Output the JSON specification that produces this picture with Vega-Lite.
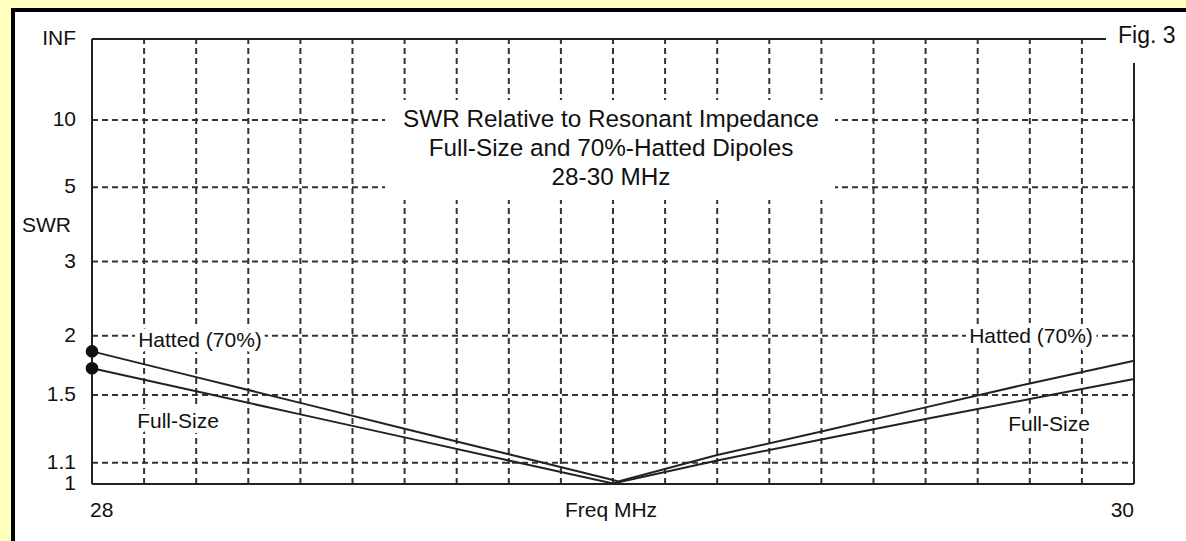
{
  "$schema": "https://vega.github.io/schema/vega-lite/v6.json",
  "autosize": {"type": "none"},
  "padding": {"left": 13, "top": 10, "right": 0, "bottom": 0},
  "width": 1173,
  "height": 531,
  "background": "#FFFFC0",
  "config": {
    "view": {"fill": "white", "stroke": "black", "strokeWidth": 4, "strokeDash": [1173, 1704, 531]},
    "text": {"font": "Liberation Sans", "fontSize": 21, "fill": "#111"}
  },
  "datasets": {
    "curves": [
      {"series": "Hatted (70%)", "freq": 28.0, "swr": 1.849},
      {"series": "Hatted (70%)", "freq": 28.2, "swr": 1.632},
      {"series": "Hatted (70%)", "freq": 28.4, "swr": 1.446},
      {"series": "Hatted (70%)", "freq": 28.6, "swr": 1.284},
      {"series": "Hatted (70%)", "freq": 28.8, "swr": 1.143},
      {"series": "Hatted (70%)", "freq": 29.0, "swr": 1.018},
      {"series": "Hatted (70%)", "freq": 29.01, "swr": 1.012},
      {"series": "Hatted (70%)", "freq": 29.2, "swr": 1.139},
      {"series": "Hatted (70%)", "freq": 29.4, "swr": 1.268},
      {"series": "Hatted (70%)", "freq": 29.6, "swr": 1.416},
      {"series": "Hatted (70%)", "freq": 29.8, "swr": 1.584},
      {"series": "Hatted (70%)", "freq": 30.0, "swr": 1.766},
      {"series": "Full-Size", "freq": 28.0, "swr": 1.703},
      {"series": "Full-Size", "freq": 28.2, "swr": 1.526},
      {"series": "Full-Size", "freq": 28.4, "swr": 1.371},
      {"series": "Full-Size", "freq": 28.6, "swr": 1.234},
      {"series": "Full-Size", "freq": 28.8, "swr": 1.112},
      {"series": "Full-Size", "freq": 29.0, "swr": 1.002},
      {"series": "Full-Size", "freq": 29.2, "swr": 1.112},
      {"series": "Full-Size", "freq": 29.4, "swr": 1.222},
      {"series": "Full-Size", "freq": 29.6, "swr": 1.342},
      {"series": "Full-Size", "freq": 29.8, "swr": 1.472},
      {"series": "Full-Size", "freq": 30.0, "swr": 1.618}
    ],
    "ticks": [
      {"swr": 1, "label": "1"},
      {"swr": 1.1, "label": "1.1"},
      {"swr": 1.5, "label": "1.5"},
      {"swr": 2, "label": "2"},
      {"swr": 3, "label": "3"},
      {"swr": 5, "label": "5"},
      {"swr": 10, "label": "10"},
      {"swr": null, "label": "INF"}
    ],
    "vgrid": [
      {"freq": 28.1}, {"freq": 28.2}, {"freq": 28.3}, {"freq": 28.4}, {"freq": 28.5},
      {"freq": 28.6}, {"freq": 28.7}, {"freq": 28.8}, {"freq": 28.9}, {"freq": 29.0},
      {"freq": 29.1}, {"freq": 29.2}, {"freq": 29.3}, {"freq": 29.4}, {"freq": 29.5},
      {"freq": 29.6}, {"freq": 29.7}, {"freq": 29.8}, {"freq": 29.9}
    ],
    "notes": [
      {"text": "Hatted (70%)", "freq": 28.2073, "swr": 1.947},
      {"text": "Full-Size", "freq": 28.1651, "swr": 1.324},
      {"text": "Hatted (70%)", "freq": 29.8023, "swr": 1.987},
      {"text": "Full-Size", "freq": 29.8369, "swr": 1.306}
    ]
  },
  "layer": [
    {
      "data": {"name": "vgrid"},
      "mark": {"type": "rule", "stroke": "#333", "strokeWidth": 2, "strokeDash": [6, 4]},
      "encoding": {
        "x": {"field": "freq", "type": "quantitative", "scale": {"domain": [27.84837, 30.09981], "nice": false, "zero": false}, "axis": null},
        "y": {"datum": 0, "type": "quantitative", "scale": {"domain": [-0.12809, 1.06517], "nice": false, "zero": false}, "axis": null},
        "y2": {"datum": 1}
      }
    },
    {
      "data": {"name": "ticks"},
      "transform": [
        {"calculate": "datum.swr == null ? 1 : (datum.swr - 1) / (datum.swr + 1)", "as": "rho"},
        {"filter": "datum.swr > 1"}
      ],
      "mark": {"type": "rule", "stroke": "#333", "strokeWidth": 2, "strokeDash": [6, 4]},
      "encoding": {
        "y": {"field": "rho", "type": "quantitative", "axis": null},
        "x": {"datum": 28, "type": "quantitative", "axis": null},
        "x2": {"datum": 30}
      }
    },
    {
      "data": {"values": [{}]},
      "mark": {"type": "rect", "fill": "white"},
      "encoding": {
        "x": {"datum": 28.5624, "type": "quantitative", "axis": null},
        "x2": {"datum": 29.4261},
        "y": {"datum": 0.8629, "type": "quantitative", "axis": null},
        "y2": {"datum": 0.6382}
      }
    },
    {
      "data": {"name": "notes"},
      "transform": [{"calculate": "(datum.swr - 1) / (datum.swr + 1)", "as": "rho"}],
      "mark": {"type": "text", "fill": "white", "stroke": "white", "strokeWidth": 10, "strokeJoin": "round", "baseline": "middle", "align": "center"},
      "encoding": {
        "x": {"field": "freq", "type": "quantitative", "axis": null},
        "y": {"field": "rho", "type": "quantitative", "axis": null},
        "text": {"field": "text"}
      }
    },
    {
      "data": {"values": [{}]},
      "mark": {"type": "rule", "stroke": "#222", "strokeWidth": 2},
      "encoding": {
        "x": {"datum": 28, "type": "quantitative", "axis": null},
        "y": {"datum": 0, "type": "quantitative", "axis": null},
        "y2": {"datum": 1}
      }
    },
    {
      "data": {"values": [{}]},
      "mark": {"type": "rule", "stroke": "#222", "strokeWidth": 2},
      "encoding": {
        "x": {"datum": 30, "type": "quantitative", "axis": null},
        "y": {"datum": 0, "type": "quantitative", "axis": null},
        "y2": {"datum": 0.946}
      }
    },
    {
      "data": {"values": [{}]},
      "mark": {"type": "rule", "stroke": "#222", "strokeWidth": 2},
      "encoding": {
        "y": {"datum": 0, "type": "quantitative", "axis": null},
        "x": {"datum": 28, "type": "quantitative", "axis": null},
        "x2": {"datum": 30}
      }
    },
    {
      "data": {"values": [{}]},
      "mark": {"type": "rule", "stroke": "#222", "strokeWidth": 2},
      "encoding": {
        "y": {"datum": 1, "type": "quantitative", "axis": null},
        "x": {"datum": 28, "type": "quantitative", "axis": null},
        "x2": {"datum": 29.9463}
      }
    },
    {
      "data": {"name": "curves"},
      "transform": [{"calculate": "(datum.swr - 1) / (datum.swr + 1)", "as": "rho"}],
      "mark": {"type": "line", "stroke": "#222", "strokeWidth": 2},
      "encoding": {
        "x": {"field": "freq", "type": "quantitative", "axis": null},
        "y": {"field": "rho", "type": "quantitative", "axis": null},
        "detail": {"field": "series"}
      }
    },
    {
      "data": {"name": "curves"},
      "transform": [
        {"filter": "datum.freq == 28"},
        {"calculate": "(datum.swr - 1) / (datum.swr + 1)", "as": "rho"}
      ],
      "mark": {"type": "point", "shape": "circle", "filled": true, "size": 160, "color": "#111", "opacity": 1},
      "encoding": {
        "x": {"field": "freq", "type": "quantitative", "axis": null},
        "y": {"field": "rho", "type": "quantitative", "axis": null}
      }
    },
    {
      "data": {"name": "notes"},
      "transform": [{"calculate": "(datum.swr - 1) / (datum.swr + 1)", "as": "rho"}],
      "mark": {"type": "text", "baseline": "middle", "align": "center"},
      "encoding": {
        "x": {"field": "freq", "type": "quantitative", "axis": null},
        "y": {"field": "rho", "type": "quantitative", "axis": null},
        "text": {"field": "text"}
      }
    },
    {
      "data": {"values": [{}]},
      "mark": {"type": "text", "align": "center", "baseline": "middle", "fontSize": 24.3, "lineHeight": 29, "dx": -2,
        "text": ["SWR Relative to Resonant Impedance", "Full-Size and 70%-Hatted Dipoles", "28-30 MHz"]},
      "encoding": {
        "x": {"datum": 29, "type": "quantitative", "axis": null},
        "y": {"datum": 0.818, "type": "quantitative", "axis": null}
      }
    },
    {
      "data": {"name": "ticks"},
      "transform": [{"calculate": "datum.swr == null ? 1 : (datum.swr - 1) / (datum.swr + 1)", "as": "rho"}],
      "mark": {"type": "text", "align": "right", "baseline": "middle", "dx": -16},
      "encoding": {
        "x": {"datum": 28, "type": "quantitative", "axis": null},
        "y": {"field": "rho", "type": "quantitative", "axis": null},
        "text": {"field": "label"}
      }
    },
    {
      "data": {"values": [{}]},
      "mark": {"type": "text", "align": "left", "baseline": "middle", "dx": -2, "dy": 27, "text": "28"},
      "encoding": {
        "x": {"datum": 28, "type": "quantitative", "axis": null},
        "y": {"datum": 0, "type": "quantitative", "axis": null}
      }
    },
    {
      "data": {"values": [{}]},
      "mark": {"type": "text", "align": "center", "baseline": "middle", "dx": -2, "dy": 27, "text": "Freq MHz"},
      "encoding": {
        "x": {"datum": 29, "type": "quantitative", "axis": null},
        "y": {"datum": 0, "type": "quantitative", "axis": null}
      }
    },
    {
      "data": {"values": [{}]},
      "mark": {"type": "text", "align": "right", "baseline": "middle", "dx": 0, "dy": 27, "text": "30"},
      "encoding": {
        "x": {"datum": 30, "type": "quantitative", "axis": null},
        "y": {"datum": 0, "type": "quantitative", "axis": null}
      }
    },
    {
      "data": {"values": [{}]},
      "mark": {"type": "text", "align": "left", "baseline": "middle", "dx": -70, "text": "SWR"},
      "encoding": {
        "x": {"datum": 28, "type": "quantitative", "axis": null},
        "y": {"datum": 0.58, "type": "quantitative", "axis": null}
      }
    },
    {
      "data": {"values": [{}]},
      "mark": {"type": "text", "align": "left", "baseline": "middle", "dx": -16, "dy": -3, "fontSize": 23, "text": "Fig. 3"},
      "encoding": {
        "x": {"datum": 30, "type": "quantitative", "axis": null},
        "y": {"datum": 1, "type": "quantitative", "axis": null}
      }
    }
  ]
}
